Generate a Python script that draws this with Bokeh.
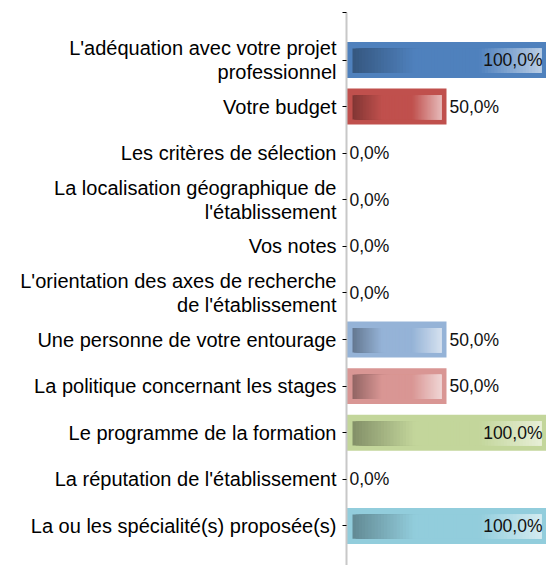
from bokeh.plotting import figure
from bokeh.models import Range1d, FixedTicker, ColumnDataSource
from bokeh.core.properties import value
from bokeh.embed import file_html
from bokeh.resources import INLINE

categories = [
    "L'adéquation avec votre projet\nprofessionnel",
    "Votre budget",
    "Les critères de sélection",
    "La localisation géographique de\nl'établissement",
    "Vos notes",
    "L'orientation des axes de recherche\nde l'établissement",
    "Une personne de votre entourage",
    "La politique concernant les stages",
    "Le programme de la formation",
    "La réputation de l'établissement",
    "La ou les spécialité(s) proposée(s)",
]
values = [100, 50, 0, 0, 0, 0, 50, 50, 100, 0, 100]
bar_colors = ["#4F81BD", "#C0504D", "#9BBB59", "#8064A2", "#4BACC6", "#F79646",
              "#95B3D7", "#D99694", "#C3D69B", "#B2A2C7", "#92CDDC"]
value_labels = ["100,0%", "50,0%", "0,0%", "0,0%", "0,0%", "0,0%",
                "50,0%", "50,0%", "100,0%", "0,0%", "100,0%"]

FONT = "Liberation Sans"
n = len(categories)
idx = list(range(n))
y_top = -1.02
y_bottom = 10.85

p = figure(width=546, height=565, output_backend="svg", toolbar_location=None,
           x_range=Range1d(0, 100), y_range=Range1d(y_bottom, y_top),
           min_border_left=346, min_border_right=0, min_border_top=12, min_border_bottom=0,
           x_axis_location=None)
p.outline_line_color = None
p.grid.visible = False
p.background_fill_color = "white"
p.border_fill_color = "white"

# axis
ax = p.yaxis[0]
ax.ticker = FixedTicker(ticks=[y_top] + idx)
overrides = {i: c for i, c in zip(idx, categories)}
overrides[y_top] = ""
ax.major_label_overrides = overrides
ax.axis_line_color = "#C8C8C8"
ax.axis_line_width = 2
ax.major_tick_line_color = "black"
ax.major_tick_out = 4
ax.major_tick_in = 0
ax.minor_tick_line_color = None
ax.major_label_standoff = 6
ax.major_label_text_font = FONT
ax.major_label_text_font_size = "20px"
ax.major_label_text_line_height = 1.08
ax.major_label_text_color = "#000000"


def mix(c, t, f):
    r, g, b = int(c[1:3], 16), int(c[3:5], 16), int(c[5:7], 16)
    rt, gt, bt = t
    return "#%02x%02x%02x" % (round(r + (rt - r) * f), round(g + (gt - g) * f), round(b + (bt - b) * f))


half = 0.386
# outer bars
src = ColumnDataSource(dict(y=idx, v=values, c=bar_colors))
p.hbar(y="y", left=0, right="v", height=2 * half, fill_color="c", line_color=None, source=src)

# inner gradient (each slice runs to the inner end so no seams show)
L, R, T, B, C = [], [], [], [], []
steps = 60
for i, (v, col) in enumerate(zip(values, bar_colors)):
    if v <= 0:
        continue
    x0 = 3.0
    x1 = v - 2.5
    w = (x1 - x0) / steps
    for k in range(steps):
        f = (k + 0.5) / steps
        if f < 0.33:
            t = 1 - f / 0.33
            cc = mix(col, (0, 0, 0), 0.33 * t)
        elif f > 0.67:
            t = (f - 0.67) / 0.33
            cc = mix(col, (255, 255, 255), 0.6 * t)
        else:
            cc = col
        L.append(x0 + k * w)
        R.append(x1)
        T.append(i - half + 0.14)
        B.append(i + half - 0.11)
        C.append(cc)
p.quad(left=L, right=R, top=T, bottom=B, fill_color=C, line_color=None)

# value labels
lab_x, lab_y, lab_t, lab_a, lab_off = [], [], [], [], []
for i, (v, t) in enumerate(zip(values, value_labels)):
    lab_x.append(v)
    lab_y.append(i)
    lab_t.append(t)
    if v >= 100:
        lab_a.append("right")
        lab_off.append(-4)
    else:
        lab_a.append("left")
        lab_off.append(3)
lsrc = ColumnDataSource(dict(x=lab_x, y=lab_y, t=lab_t, a=lab_a, o=lab_off))
p.text(x="x", y="y", text="t", text_align="a", x_offset="o", text_baseline="middle",
       text_font=value(FONT), text_font_size="17.5px", text_color="#111111", source=lsrc)

open("out.html", "w").write(file_html(p, INLINE))
